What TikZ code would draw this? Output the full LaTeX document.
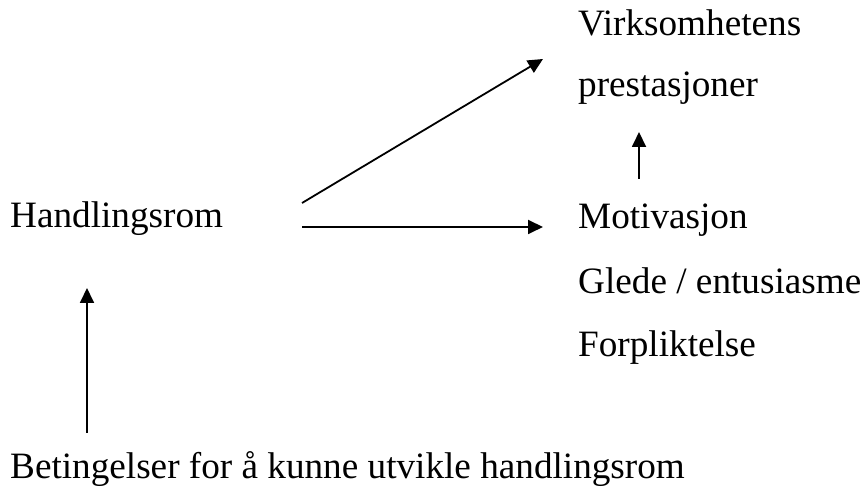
\documentclass[tikz,border=0pt]{standalone}
\usepackage{fontspec}
\setmainfont{Liberation Serif}
\usetikzlibrary{arrows.meta}
\begin{document}
\begin{tikzpicture}[x=1pt,y=1pt,
  label/.style={anchor=base west,inner sep=0pt,font=\fontsize{37.2}{45}\selectfont},
  link/.style={line width=1.8pt,-{Triangle[length=15pt,width=14pt]}}]
\useasboundingbox (0,0) rectangle (866,497);
% text blocks
\node[label] (virk) at (578,461) {Virksomhetens};
\node[label] (prest) at (578,400) {prestasjoner};
\node[label] (hand) at (10,269) {Handlingsrom};
\node[label] (motiv) at (578,268) {Motivasjon};
\node[label] (glede) at (578,203) {Glede / entusiasme};
\node[label] (forp) at (578,140) {Forpliktelse};
\node[label] (bet) at (10,18) {Betingelser for å kunne utvikle handlingsrom};
% connector end points
\coordinate (diagS) at (302,294);
\coordinate (diagE) at (543,438);
\coordinate (horS) at (302,270);
\coordinate (horE) at (543,270);
\coordinate (upS) at (87,64);
\coordinate (upE) at (87,209);
\coordinate (smS) at (639,318);
\coordinate (smE) at (639,365);
% arrows
\draw[link] (diagS) -- (diagE);
\draw[link] (horS) -- (horE);
\draw[link] (upS) -- (upE);
\draw[link] (smS) -- (smE);
\end{tikzpicture}
\end{document}
